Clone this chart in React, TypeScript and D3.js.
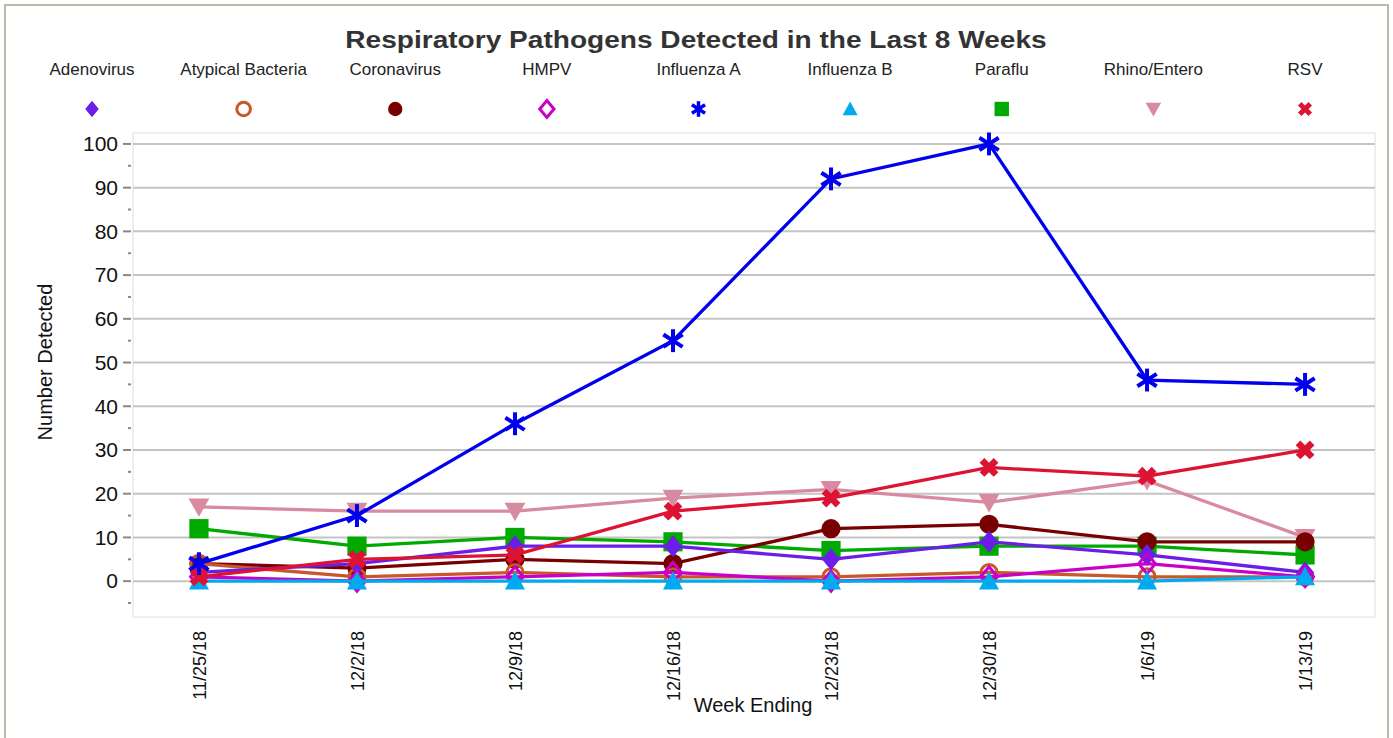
import React from "react";
import * as d3 from "d3";

const weeks = ["11/25/18", "12/2/18", "12/9/18", "12/16/18", "12/23/18", "12/30/18", "1/6/19", "1/13/19"];
const seriesNames = ["Adenovirus", "Atypical Bacteria", "Coronavirus", "HMPV", "Influenza A", "Influenza B", "Paraflu", "Rhino/Entero", "RSV"];
const adenovirus = [2, 4, 8, 8, 5, 9, 6, 2];
const atypicalBacteria = [4, 1, 2, 1, 1, 2, 1, 1];
const coronavirus = [4, 3, 5, 4, 12, 13, 9, 9];
const hmpv = [1, 0, 1, 2, 0, 1, 4, 1];
const influenzaA = [4, 15, 36, 55, 92, 100, 46, 45];
const influenzaB = [0, 0, 0, 0, 0, 0, 0, 1];
const paraflu = [12, 8, 10, 9, 7, 8, 8, 6];
const rhinoEntero = [17, 16, 16, 19, 21, 18, 23, 10];
const rsv = [1, 5, 6, 16, 19, 26, 24, 30];
const yTicks = [0, 10, 20, 30, 40, 50, 60, 70, 80, 90, 100];
const yMinorTicks = [-5, 5, 15, 25, 35, 45, 55, 65, 75, 85, 95];

const seriesValues = [adenovirus, atypicalBacteria, coronavirus, hmpv, influenzaA, influenzaB, paraflu, rhinoEntero, rsv];
const colors = ["#6a1ee8", "#c8572a", "#780000", "#c800c8", "#0000ee", "#00aaee", "#00aa00", "#d88aa0", "#dc1432"];
const shapes = ["diamond", "ring", "circle", "openDiamond", "asterisk", "triangle", "square", "triangleDown", "x"];
const drawOrder = [6, 7, 2, 1, 0, 3, 5, 8, 4];

function Marker({ shape, color, x, y, s }: { shape: string; color: string; x: number; y: number; s: number }) {
  const t = `translate(${x},${y})`;
  switch (shape) {
    case "diamond":
      return <path transform={t} d={`M0,${-s * 0.55}L${s * 0.45},0L0,${s * 0.55}L${-s * 0.45},0Z`} fill={color} />;
    case "openDiamond":
      return <path transform={t} d={`M0,${-s * 0.5}L${s * 0.42},0L0,${s * 0.5}L${-s * 0.42},0Z`} fill="none" stroke={color} strokeWidth={3} />;
    case "ring":
      return <circle cx={x} cy={y} r={s * 0.4} fill="none" stroke={color} strokeWidth={3} />;
    case "circle":
      return <circle cx={x} cy={y} r={s * 0.48} fill={color} />;
    case "square":
      return <rect x={x - s * 0.48} y={y - s * 0.48} width={s * 0.96} height={s * 0.96} fill={color} />;
    case "triangle":
      return <path transform={t} d={`M0,${-s * 0.5}L${s * 0.5},${s * 0.42}L${-s * 0.5},${s * 0.42}Z`} fill={color} />;
    case "triangleDown":
      return <path transform={t} d={`M0,${s * 0.5}L${s * 0.52},${-s * 0.42}L${-s * 0.52},${-s * 0.42}Z`} fill={color} />;
    case "x": {
      const p = d3.symbol().type(d3.symbolCross).size(s * s * 0.55)();
      return <path transform={`${t} rotate(45)`} d={p || ""} fill={color} />;
    }
    case "asterisk": {
      const r = s * 0.52;
      const a = Math.PI / 5.5;
      return (
        <g transform={t} stroke={color} strokeWidth={s > 18 ? 4 : 3.5} strokeLinecap="butt">
          <line x1={0} y1={-r} x2={0} y2={r} />
          <line x1={-r * Math.cos(a)} y1={-r * Math.sin(a)} x2={r * Math.cos(a)} y2={r * Math.sin(a)} />
          <line x1={-r * Math.cos(a)} y1={r * Math.sin(a)} x2={r * Math.cos(a)} y2={-r * Math.sin(a)} />
        </g>
      );
    }
  }
  return null;
}

export default function App() {
  const W = 1393, H = 738;
  const left = 133, right = 1375, top = 133, bottom = 617;
  const x = d3.scalePoint<string>().domain(weeks).range([131, 1373]).padding(0.43);
  const y = d3.scaleLinear().domain([-8.2, 102.5]).range([bottom, top]);
  const line = d3.line<number>().x((_, i) => x(weeks[i]) as number).y((d) => y(d));
  const font = "Liberation Sans, Arial, sans-serif";
  const legendX = d3.scalePoint<string>().domain(seriesNames).range([92, 1305]);

  return (
    <svg width={W} height={H} style={{ position: "absolute", left: 0, top: 0, background: "#fff" }} fontFamily={font}>
      <rect x={5} y={5} width={1383} height={760} fill="#fff" stroke="#bcb8ac" strokeWidth={2} />
      <text transform="translate(696,48) scale(1.17,1)" textAnchor="middle" fontSize={24} fontWeight="bold" fill="#333">
        Respiratory Pathogens Detected in the Last 8 Weeks
      </text>
      {seriesNames.map((n, i) => (
        <g key={n}>
          <text x={legendX(n)} y={75} textAnchor="middle" fontSize={17} fill="#222">{n}</text>
          <Marker shape={shapes[i]} color={colors[i]} x={legendX(n) as number} y={109} s={shapes[i] === "ring" || shapes[i] === "openDiamond" ? 17 : 15} />
        </g>
      ))}
      <rect x={left} y={top} width={right - left} height={bottom - top} fill="#fff" stroke="#eeeeee" strokeWidth={2} />
      {yTicks.map((v) => (
        <g key={v}>
          <line x1={left} x2={right} y1={y(v)} y2={y(v)} stroke="#c4c4c4" strokeWidth={2} />
          <line x1={123} x2={131} y1={y(v)} y2={y(v)} stroke="#888" strokeWidth={2} />
          <text x={118} y={y(v)} dy="0.35em" textAnchor="end" fontSize={21} fill="#111">{v}</text>
        </g>
      ))}
      {yMinorTicks.map((v) => (
        <line key={v} x1={128} x2={131} y1={y(v)} y2={y(v)} stroke="#888" strokeWidth={2} />
      ))}
      <text transform={`translate(52,362) rotate(-90)`} textAnchor="middle" fontSize={20} fill="#111">Number Detected</text>
      {weeks.map((w) => (
        <text key={w} transform={`translate(${(x(w) as number) + 7},631) rotate(-90)`} textAnchor="end" fontSize={18} fill="#111">{w}</text>
      ))}
      <text x={753} y={712} textAnchor="middle" fontSize={20} fill="#111">Week Ending</text>
      {drawOrder.map((si) => (
        <g key={si}>
          <path d={line(seriesValues[si]) || ""} fill="none" stroke={colors[si]} strokeWidth={3.3} />
          {seriesValues[si].map((v, i) => (
            <Marker key={i} shape={shapes[si]} color={colors[si]} x={x(weeks[i]) as number} y={y(v)} s={shapes[si] === "asterisk" ? 22 : 20} />
          ))}
        </g>
      ))}
    </svg>
  );
}
